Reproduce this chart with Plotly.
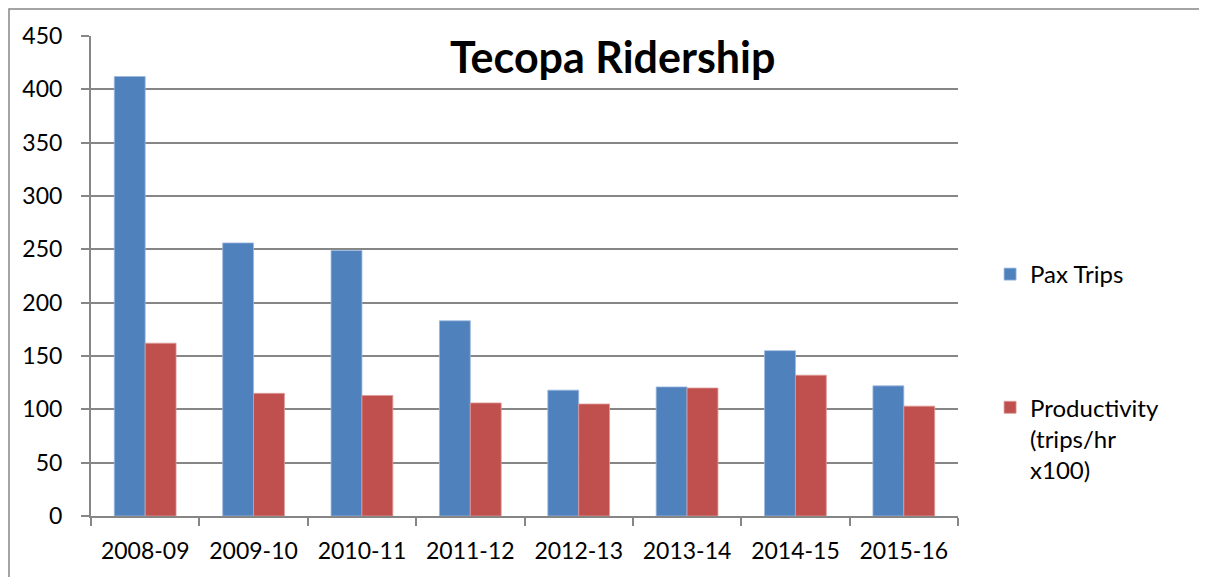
import plotly.graph_objects as go

categories = ["2008-09", "2009-10", "2010-11", "2011-12", "2012-13", "2013-14", "2014-15", "2015-16"]
pax_trips = [412, 256, 249, 183, 118, 121, 155, 122]
productivity = [162, 115, 113, 106, 105, 120, 132, 103]

FONT = "Lato"
GRID = "#868686"

fig = go.Figure()
fig.add_trace(go.Bar(x=categories, y=pax_trips, name="Pax Trips",
                     marker=dict(color="#4F81BD", line=dict(color="#9DB9DE", width=0.8)),
                     legendgroup="a"))
fig.add_trace(go.Bar(x=categories, y=productivity, name="Productivity<br>(trips/hr<br>x100)",
                     marker=dict(color="#C0504D", line=dict(color="#DE9B99", width=0.8)),
                     legendgroup="b"))

fig.update_layout(
    width=1207, height=577,
    margin=dict(l=83, r=257, t=28, b=69, autoexpand=False),
    paper_bgcolor="white", plot_bgcolor="white",
    barmode="group", bargap=0.43, bargroupgap=0,
    font=dict(family=FONT, size=23, color="black"),
    legend=dict(x=1.037, y=0.55, xanchor="left", yanchor="top",
                font=dict(family=FONT, size=24), tracegroupgap=99,
                valign="top", itemwidth=30, bgcolor="rgba(0,0,0,0)"),
    showlegend=True,
)
fig.update_xaxes(type="category", showline=True, linecolor=GRID, linewidth=2, ticks="outside",
                 tickson="boundaries", ticklen=8, tickcolor=GRID, tickwidth=2,
                 showgrid=False, tickfont=dict(size=23, family=FONT), automargin=False,
                 ticklabelstandoff=13)
fig.update_yaxes(range=[0, 450], dtick=50, showline=True, linecolor=GRID, linewidth=2,
                 ticks="outside", ticklen=8, tickcolor=GRID, tickwidth=2,
                 showgrid=True, gridcolor=GRID, gridwidth=2, zeroline=False,
                 tickfont=dict(size=23, family=FONT), automargin=False,
                 ticklabelstandoff=14)

fig.add_annotation(text="<b>Tecopa Ridership</b>", xref="paper", yref="paper",
                   x=0.601, y=0.958, showarrow=False, xanchor="center", yanchor="middle",
                   font=dict(family=FONT, size=43, color="black"))

fig.add_shape(type="rect", xref="paper", yref="paper",
              x0=(9 - 91) / 867, x1=(1215 - 91) / 867,
              y0=(516 - 600) / 480, y1=(516 - 9) / 480,
              line=dict(color="#868686", width=1.5), fillcolor="rgba(0,0,0,0)", layer="below")

fig.write_html("out.html")
